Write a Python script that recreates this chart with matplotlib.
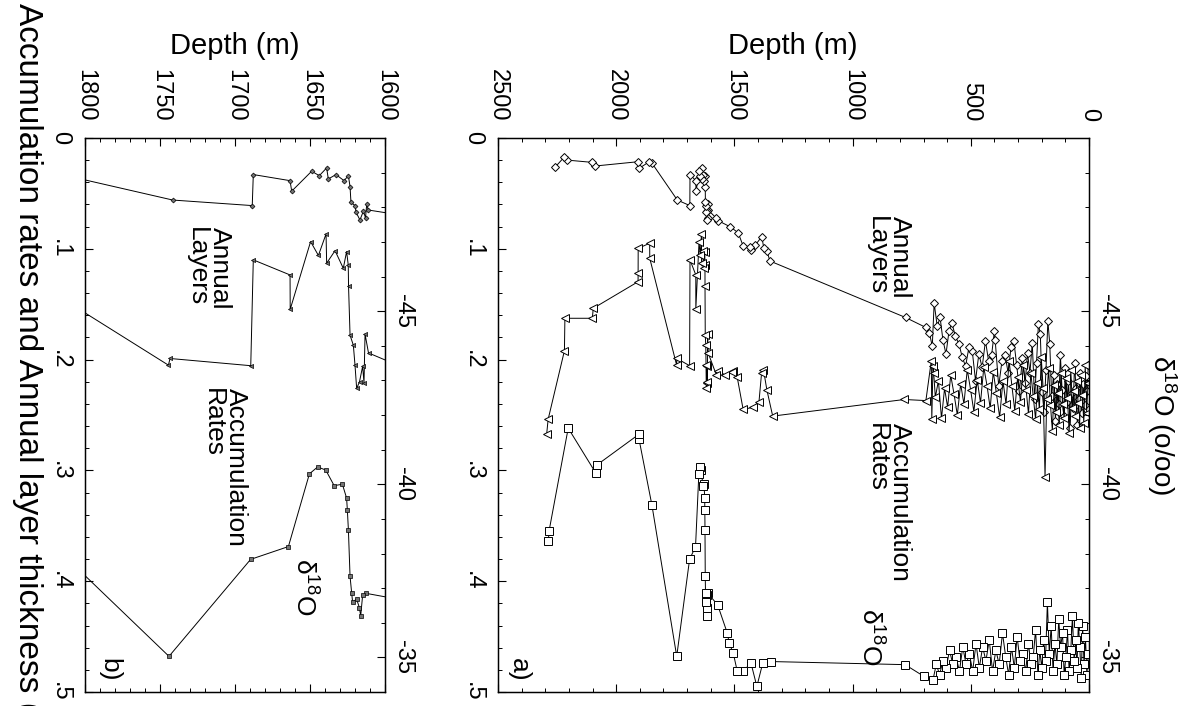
import matplotlib
matplotlib.use('Agg')
import matplotlib.pyplot as plt
from matplotlib.ticker import MultipleLocator, FuncFormatter, FixedLocator

plt.rcParams['font.family'] = ['Liberation Sans', 'DejaVu Sans']
plt.rcParams['mathtext.fontset'] = 'custom'
plt.rcParams['mathtext.rm'] = 'Liberation Sans'
plt.rcParams['mathtext.it'] = 'Liberation Sans'

# ---------------- data ----------------
annual_depth = [3, 8, 14, 19, 25, 31, 37, 43, 49, 55, 61, 67, 74, 80, 87, 93, 100, 107, 114, 121,
                128, 135, 142, 150, 158, 166, 174, 182, 190, 198, 206, 214, 222, 230, 240, 250, 260,
                270, 282, 294, 306, 318, 330, 342, 355, 368, 382, 397, 400, 412, 425, 438, 452, 466,
                480, 494, 508, 522, 536, 550, 565, 580, 592, 605, 618, 630, 642, 655, 663, 675, 690,
                776, 1350, 1362, 1376, 1384, 1413, 1428, 1435, 1463, 1484, 1519, 1569, 1578,
                1611.1, 1612.2, 1613.0, 1614.4, 1616.7, 1619.3, 1620.0, 1622.7, 1623.3, 1624.4,
                1627.3, 1632.7, 1637.8, 1638.9, 1643.8, 1648.9, 1662.2, 1663.3, 1687.8, 1688.5,
                1741.5, 1850, 1860, 1903, 1907, 2090, 2101, 2210, 2219, 2259]
annual_thk = [.205, .228, .215, .241, .222, .248, .212, .236, .259, .226, .203, .244, .230, .262, .219,
              .238, .208, .251, .227, .196, .240, .222, .255, .214, .233, .186, .165, .209, .247, .229,
              .177, .168, .203, .236, .185, .212, .194, .221, .199, .228, .205, .183, .189, .212, .196,
              .201, .224, .182, .174, .196, .201, .183, .207, .195, .219, .192, .189, .206, .198, .186,
              .179, .167, .174, .195, .182, .162, .170, .149, .188, .176, .171,
              .162, .111, .102, .099, .089, .097, .101, .098, .0975, .0855, .080, .0746, .072,
              .065, .060, .072, .066, .074, .067, .061, .058, .044, .034,
              .0385, .033, .037, .027, .034, .030, .048, .0385, .033, .061,
              .056, .0223, .0214, .0274, .0214, .0253, .022, .0199, .017, .0265]

accum_depth = [4, 10, 16, 22, 28, 34, 40, 46, 52, 58, 64, 70, 77, 84, 91, 98, 105, 112, 119, 126,
               133, 140, 147, 155, 163, 171, 179, 186, 194, 202, 210, 218, 226, 236, 246, 256, 266,
               278, 290, 302, 314, 326, 338, 351, 364, 378, 392, 405, 418, 431, 445, 459, 473, 487,
               501, 515, 529, 543, 557, 571, 585, 598, 611, 624, 637, 650, 657, 660, 665, 667, 690,
               781, 1338, 1363, 1377, 1385, 1396, 1421, 1463, 1488, 1505, 1512, 1538, 1571, 1576,
               1611.0, 1613.3, 1614.0, 1614.9, 1617.0, 1618.9, 1620.0, 1621.1, 1623.3, 1624.3,
               1624.5, 1625.6, 1627.8, 1633.3, 1638.9, 1639.3, 1644.4, 1649.6, 1663.2, 1663.3,
               1687.8, 1689.5, 1743.3, 1744.4, 1858.0, 1858.5, 1907.0, 1907.3, 1907.5, 2097, 2101,
               2217, 2219, 2288, 2294]
accum_rate = [.221, .248, .205, .257, .232, .214, .262, .239, .219, .251, .228, .244, .209, .266, .235,
              .217, .253, .240, .212, .259, .230, .247, .223, .264, .241, .208, .236, .306, .226, .198,
              .245, .221, .254, .233, .212, .249, .227, .205, .238, .216, .246, .224, .201, .240, .219,
              .252, .230, .211, .244, .224, .207, .239, .218, .247, .227, .209, .240, .222, .250, .231,
              .214, .243, .226, .253, .219, .234, .212, .206, .254, .201, .237,
              .236, .251, .227, .209, .212, .238, .243, .245, .216, .210, .211, .214, .210, .214,
              .194, .177, .221, .206, .220, .226, .205, .187, .178, .134,
              .1146, .1025, .1176, .1017, .113, .0866, .106, .0935, .1546, .1236,
              .110, .2055, .199, .205, .1086, .095, .0996, .122, .1297, .1537, .1627,
              .1627, .192, .254, .267]

d18o_depth = [3, 9, 15, 21, 27, 33, 39, 45, 51, 57, 63, 70, 77, 84, 91, 98, 105, 112, 120, 128, 136,
              144, 152, 160, 168, 176, 184, 192, 200, 208, 216, 226, 236, 246, 256, 268, 280, 292,
              304, 316, 328, 340, 352, 366, 380, 394, 408, 422, 436, 450, 464, 478, 492, 506, 520,
              534, 548, 562, 576, 590, 604, 618, 632, 646, 660, 698, 778,
              1347, 1380, 1405, 1430, 1463, 1488, 1505, 1522, 1530, 1571,
              1612.7, 1614.9, 1616.2, 1617.1, 1618.9, 1621.6, 1622.2, 1623.3, 1624.4, 1625.1,
              1625.6, 1628.4, 1633.9, 1639.5, 1644.9, 1650.4, 1664.4, 1689.6, 1744, 1849,
              1904.0, 1904.5, 2081, 2086, 2203, 2284, 2287]
d18o = [-35.1, -34.5, -35.6, -34.8, -35.9, -34.4, -35.3, -36.0, -34.7, -35.5, -34.9, -36.2, -35.2,
        -34.6, -35.8, -35.0, -34.5, -35.7, -35.3, -36.1, -34.8, -35.4, -34.6, -35.9, -35.1, -36.6,
        -34.9, -35.5, -34.7, -35.2, -34.5, -35.8, -35.0, -34.8, -35.4, -34.6, -35.1, -34.9, -35.6,
        -34.7, -35.3, -34.5, -35.0, -35.7, -34.8, -35.2, -34.6, -35.5, -34.9, -35.3, -34.7, -35.4,
        -34.6, -35.1, -34.8, -35.3, -34.6, -35.0, -34.8, -35.2, -34.7, -34.9, -34.5, -34.8, -34.35,
        -34.45, -34.79,
        -34.88, -34.84, -34.16, -34.84, -34.6, -34.6, -35.13, -35.41, -35.7, -36.52,
        -36.85, -36.8, -36.2, -36.44, -36.68, -36.6, -36.85, -37.34, -38.68, -39.26,
        -39.6, -40.0, -39.96, -40.41, -40.5, -40.3, -38.2, -37.83, -35.03, -39.4,
        -41.32, -41.44, -40.56, -40.32, -41.62, -38.65, -38.35]

depth_ticks_a = [2500, 2000, 1500, 1000, 500, 0]
depth_ticks_b = [1800, 1750, 1700, 1650, 1600]
d18o_ticks = [-45, -40, -35]

# ---------------- layout ----------------
W, H = 1180, 706
fig = plt.figure(figsize=(W / 100, H / 100), dpi=100)


def box(l, r, t, b):
    return [l / W, 1 - b / H, (r - l) / W, (b - t) / H]


def acc_fmt(v, p):
    if abs(v) < 1e-9:
        return '0'
    return ('%.1f' % v).lstrip('0')


def setup(ax, xlim, xticks, xminor, tick_fs):
    ax.set_xlim(*xlim)
    ax.set_ylim(0.5, 0.0)
    ax.set_xticks(xticks)
    ax.xaxis.set_minor_locator(MultipleLocator(xminor))
    ax.yaxis.set_major_locator(MultipleLocator(0.1))
    ax.yaxis.set_minor_locator(MultipleLocator(0.02))
    ax.yaxis.set_major_formatter(FuncFormatter(acc_fmt))
    ax.tick_params(axis='x', which='both', direction='in', top=True, bottom=True,
                   labeltop=True, labelbottom=False, labelrotation=-90, pad=12,
                   labelsize=tick_fs)
    ax.tick_params(axis='y', which='both', direction='in', left=True, right=False,
                   labelleft=True, labelrotation=-90, pad=10, labelsize=tick_fs)
    ax.tick_params(which='major', length=6, width=0.8)
    ax.tick_params(which='minor', length=3, width=0.7)
    for s in ax.spines.values():
        s.set_linewidth(1.0)
    for lab in ax.get_xticklabels():
        lab.set_verticalalignment('bottom')
        lab.set_horizontalalignment('center')
    for lab in ax.get_yticklabels():
        lab.set_verticalalignment('center')
        lab.set_horizontalalignment('right')

    ax2 = ax.twinx()
    ax2.set_ylim(-34, -50)
    ax2.yaxis.set_major_locator(FixedLocator(d18o_ticks))
    ax2.yaxis.set_minor_locator(MultipleLocator(1))
    ax2.tick_params(axis='y', which='both', direction='in', right=True, left=False,
                    labelright=True, labelrotation=-90, pad=5, labelsize=tick_fs)
    ax2.tick_params(which='major', length=6, width=0.8)
    ax2.tick_params(which='minor', length=3, width=0.7)
    ax2.yaxis.set_major_formatter(FuncFormatter(lambda v, p: '%d' % round(v)))
    for lab in ax2.get_yticklabels():
        lab.set_verticalalignment('center')
        lab.set_horizontalalignment('left')
    return ax2


ax_b = fig.add_axes(box(85, 385, 138, 692))
ax_a = fig.add_axes(box(498, 1089, 138, 692))

ax2_a = setup(ax_a, (2500, 0), depth_ticks_a, 100, 17)
ax2_b = setup(ax_b, (1800, 1600), depth_ticks_b, 10, 17)

lw = 0.7
# panel a: open symbols
ax_a.plot(annual_depth, annual_thk, '-', color='black', lw=lw, marker='D', ms=4.5,
          mfc='white', mec='black', mew=0.7)
ax_a.plot(accum_depth, accum_rate, '-', color='black', lw=lw, marker='<', ms=6,
          mfc='white', mec='black', mew=0.7)
ax2_a.plot(d18o_depth, d18o, '-', color='black', lw=lw, marker='s', ms=5.5,
           mfc='white', mec='black', mew=0.7)

# panel b: small symbols
ax_b.plot(annual_depth, annual_thk, '-', color='black', lw=lw, marker='D', ms=2.5,
          mfc='0.45', mec='black', mew=0.5)
ax_b.plot(accum_depth, accum_rate, '-', color='black', lw=lw, marker='<', ms=3,
          mfc='0.45', mec='black', mew=0.5)
ax2_b.plot(d18o_depth, d18o, '-', color='black', lw=lw, marker='s', ms=3,
           mfc='0.45', mec='black', mew=0.5)

# ---------------- texts ----------------
ann_fs = 19


def ftext(x, y, s, **kw):
    fig.text(x / W, 1 - y / H, s, **kw)


ftext(235, 46, 'Depth (m)', fontsize=21, ha='center', va='center')
ftext(793, 46, 'Depth (m)', fontsize=21, ha='center', va='center')
ftext(27, 3, 'Accumulation rates and Annual layer thickness (m)', fontsize=24,
      rotation=-90, ha='center', va='top')
ftext(1162, 425, 'δ$^{18}$O (o/oo)', fontsize=20, rotation=-90, ha='center', va='center')

ftext(888, 216, 'Annual\nLayers', fontsize=ann_fs, rotation=-90, ha='center', va='top',
      multialignment='left', linespacing=0.95)
ftext(888, 423, 'Accumulation\nRates', fontsize=ann_fs, rotation=-90, ha='center', va='top',
      multialignment='left', linespacing=0.95)
ftext(870, 608, 'δ$^{18}$O', fontsize=ann_fs, rotation=-90, ha='center', va='top')
ftext(519, 658, 'a)', fontsize=ann_fs, rotation=-90, ha='center', va='top')

ftext(208, 227, 'Annual\nLayers', fontsize=ann_fs, rotation=-90, ha='center', va='top',
      multialignment='left', linespacing=0.95)
ftext(224, 388, 'Accumulation\nRates', fontsize=ann_fs, rotation=-90, ha='center', va='top',
      multialignment='left', linespacing=0.95)
ftext(304, 558, 'δ$^{18}$O', fontsize=ann_fs, rotation=-90, ha='center', va='top')
ftext(109, 658, 'b)', fontsize=ann_fs, rotation=-90, ha='center', va='top')

fig.savefig('out.png', dpi=100)
